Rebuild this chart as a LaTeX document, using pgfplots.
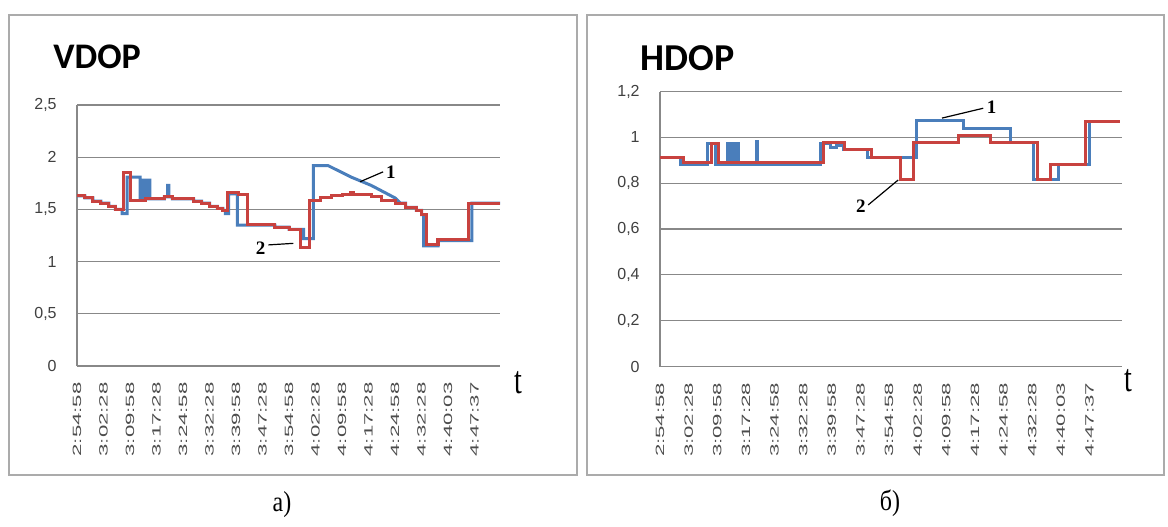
\documentclass[border=0pt]{standalone}
\usepackage{fontspec}
\setmainfont{Liberation Sans}
\newfontfamily\serif{Liberation Serif}
\newfontfamily\titlefont{Carlito}
\usepackage{graphicx}
\usepackage{pgfplots}
\pgfplotsset{compat=1.18}

\definecolor{dopblue}{HTML}{4A7EBB}
\definecolor{dopred}{HTML}{C8423F}
\definecolor{gridgray}{HTML}{888888}
\definecolor{framegray}{HTML}{ABABAB}

% time labels are set narrow and tall
\newcommand\tl[1]{\scalebox{1.85}[1]{#1}}

\tikzset{ann/.style={font=\serif\bfseries\fontsize{9.5bp}{10bp}\selectfont, inner sep=0pt}}

\pgfplotsset{
  dop/.style={
    scale only axis, xmin=0, ymin=0,
    axis x line*=bottom, axis y line*=left,
    axis line style={draw=gridgray, line width=0.7bp},
    ymajorgrids, grid style={draw=gridgray, line width=0.6bp},
    major tick length=0pt,
    xtick={0,...,15},
    xticklabels={\tl{2:54:58},\tl{3:02:28},\tl{3:09:58},\tl{3:17:28},\tl{3:24:58},\tl{3:32:28},\tl{3:39:58},\tl{3:47:28},\tl{3:54:58},\tl{4:02:28},\tl{4:09:58},\tl{4:17:28},\tl{4:24:58},\tl{4:32:28},\tl{4:40:03},\tl{4:47:37}},
    xticklabel style={rotate=90, anchor=east, inner sep=0pt, font=\fontsize{6bp}{7bp}\selectfont, text=black!70},
    xticklabel shift=8bp,
    yticklabel style={anchor=east, inner sep=0pt, font=\fontsize{8bp}{9bp}\selectfont, text=black!75},
    yticklabel shift=10bp,
    clip=false,
  },
  s1/.style={dopblue, line width=1.5bp, mark=none},
  s2/.style={dopred, line width=1.5bp, mark=none},
}

\begin{document}
\begin{tikzpicture}
\begin{scope}[x=0.5bp, y=-0.5bp]
  \fill[white] (0,0) rectangle (1168,520);
  \draw[framegray, line width=0.75bp] (9,15) rectangle (577,475);
  \draw[framegray, line width=0.75bp] (587,15) rectangle (1164,475);
  \node[anchor=base west, inner sep=0pt, font=\titlefont\bfseries\fontsize{18bp}{20bp}\selectfont] at (53,68) {VDOP};
  \node[anchor=base west, inner sep=0pt, font=\titlefont\bfseries\fontsize{19bp}{21bp}\selectfont] at (640,70) {HDOP};
  \node[font=\serif\fontsize{14bp}{15bp}\selectfont, yscale=1.4] at (518,383) {t};
  \node[font=\serif\fontsize{14bp}{15bp}\selectfont, yscale=1.4] at (1128,381) {t};
  \node[font=\serif\fontsize{12bp}{13bp}\selectfont, yscale=1.2] at (282,505) {а)};
  \node[font=\serif\fontsize{12bp}{13bp}\selectfont, yscale=1.2] at (890,503) {б)};
\end{scope}

% VDOP
\begin{axis}[dop,
  at={(38.5bp,-183bp)}, anchor=south west,
  width=211.5bp, height=130.5bp,
  xmax=15.96, ymax=2.5,
  ytick={0,0.5,1,1.5,2,2.5},
  yticklabels={0,{0,5},1,{1,5},2,{2,5}},
]
\addplot[s1] coordinates {
 (0,1.63)(0.3,1.63)(0.3,1.61)(0.6,1.61)(0.6,1.58)(0.9,1.58)(0.9,1.56)(1.2,1.56)(1.2,1.53)(1.45,1.53)(1.45,1.50)(1.7,1.50)(1.7,1.46)(1.89,1.46)(1.89,1.81)(2.38,1.81)(2.38,1.59)(2.45,1.59)(2.45,1.78)(2.5,1.78)(2.5,1.6)(2.55,1.6)(2.55,1.78)(2.6,1.78)(2.6,1.6)(2.65,1.6)(2.65,1.78)(2.75,1.78)(2.75,1.6)(3.3,1.6)(3.3,1.62)(3.42,1.62)(3.42,1.73)(3.47,1.73)(3.47,1.62)(3.6,1.62)(3.6,1.60)(4.4,1.60)(4.4,1.58)(4.7,1.58)(4.7,1.56)(5.0,1.56)(5.0,1.53)(5.3,1.53)(5.3,1.51)(5.5,1.51)(5.5,1.49)(5.6,1.49)(5.6,1.46)(5.72,1.46)(5.72,1.65)(6.05,1.65)(6.05,1.35)(7.47,1.35)(7.47,1.33)(8.0,1.33)(8.0,1.31)(8.55,1.31)(8.55,1.22)(8.92,1.22)(8.92,1.92)(9.47,1.92)(10.34,1.81)(11.1,1.73)(12.0,1.61)(12.2,1.56)(12.4,1.56)(12.4,1.52)(12.8,1.52)(12.8,1.49)(13.0,1.49)(13.0,1.45)(13.08,1.45)(13.08,1.15)(13.62,1.15)(13.62,1.2)(14.9,1.2)(14.9,1.56)(15.96,1.56)
};
\addplot[s2] coordinates {
 (0,1.63)(0.3,1.63)(0.3,1.61)(0.6,1.61)(0.6,1.58)(0.9,1.58)(0.9,1.56)(1.2,1.56)(1.2,1.53)(1.45,1.53)(1.45,1.50)(1.74,1.50)(1.74,1.85)(2.0,1.85)(2.0,1.59)(2.6,1.59)(2.6,1.60)(3.3,1.60)(3.3,1.62)(3.6,1.62)(3.6,1.60)(4.4,1.60)(4.4,1.58)(4.7,1.58)(4.7,1.56)(5.0,1.56)(5.0,1.53)(5.3,1.53)(5.3,1.51)(5.5,1.51)(5.5,1.49)(5.69,1.49)(5.69,1.66)(6.1,1.66)(6.1,1.64)(6.42,1.64)(6.42,1.36)(7.47,1.36)(7.47,1.33)(8.0,1.33)(8.0,1.31)(8.42,1.31)(8.42,1.14)(8.79,1.14)(8.79,1.59)(9.2,1.59)(9.2,1.61)(9.6,1.61)(9.6,1.63)(10.0,1.63)(10.0,1.64)(10.3,1.64)(10.3,1.66)(10.45,1.66)(10.45,1.64)(11.1,1.64)(11.1,1.62)(11.5,1.62)(11.5,1.59)(12.0,1.59)(12.0,1.56)(12.4,1.56)(12.4,1.52)(12.8,1.52)(12.8,1.49)(13.0,1.49)(13.0,1.45)(13.2,1.45)(13.2,1.16)(13.62,1.16)(13.62,1.21)(14.78,1.21)(14.78,1.56)(15.96,1.56)
};
\draw[black, line width=0.6bp] (axis cs:10.68,1.765) -- (axis cs:11.55,1.86);
\node[ann, anchor=west] at (axis cs:11.65,1.86) {1};
\draw[black, line width=0.6bp] (axis cs:7.22,1.16) -- (axis cs:8.16,1.175);
\node[ann, anchor=east] at (axis cs:7.12,1.13) {2};
\end{axis}

% HDOP
\begin{axis}[dop,
  at={(330bp,-183.25bp)}, anchor=south west,
  width=231bp, height=137.5bp,
  xmax=16.14, ymax=1.2,
  ytick={0,0.2,0.4,0.6,0.8,1,1.2},
  yticklabels={0,{0,2},{0,4},{0,6},{0,8},1,{1,2}},
]
\addplot[s1] coordinates {
 (0,0.91)(0.7,0.91)(0.7,0.88)(1.65,0.88)(1.65,0.975)(1.95,0.975)(1.95,0.88)(2.35,0.88)(2.35,0.975)(2.45,0.975)(2.45,0.88)(2.52,0.88)(2.52,0.975)(2.6,0.975)(2.6,0.88)(2.65,0.88)(2.65,0.975)(2.73,0.975)(2.73,0.88)(3.36,0.88)(3.36,0.98)(3.42,0.98)(3.42,0.88)(5.62,0.88)(5.62,0.975)(5.95,0.975)(5.95,0.955)(6.15,0.955)(6.15,0.965)(6.4,0.965)(6.4,0.945)(7.25,0.945)(7.25,0.91)(8.96,0.91)(8.96,1.075)(10.6,1.075)(10.6,1.04)(12.24,1.04)(12.24,0.978)(13.04,0.978)(13.04,0.815)(13.92,0.815)(13.92,0.88)(15.0,0.88)(15.0,1.07)(16.08,1.07)
};
\addplot[s2] coordinates {
 (0,0.91)(0.82,0.91)(0.82,0.89)(1.8,0.89)(1.8,0.975)(2.03,0.975)(2.03,0.89)(5.71,0.89)(5.71,0.978)(6.45,0.978)(6.45,0.948)(7.38,0.948)(7.38,0.912)(8.39,0.912)(8.39,0.815)(8.85,0.815)(8.85,0.978)(10.42,0.978)(10.42,1.01)(11.54,1.01)(11.54,0.978)(13.17,0.978)(13.17,0.815)(13.64,0.815)(13.64,0.88)(14.86,0.88)(14.86,1.07)(16.08,1.07)
};
\draw[black, line width=0.6bp] (axis cs:9.85,1.084) -- (axis cs:11.29,1.127);
\node[ann, anchor=west] at (axis cs:11.4,1.13) {1};
\draw[black, line width=0.6bp] (axis cs:7.27,0.705) -- (axis cs:8.32,0.814);
\node[ann, anchor=east] at (axis cs:7.2,0.7) {2};
\end{axis}
\end{tikzpicture}
\end{document}
